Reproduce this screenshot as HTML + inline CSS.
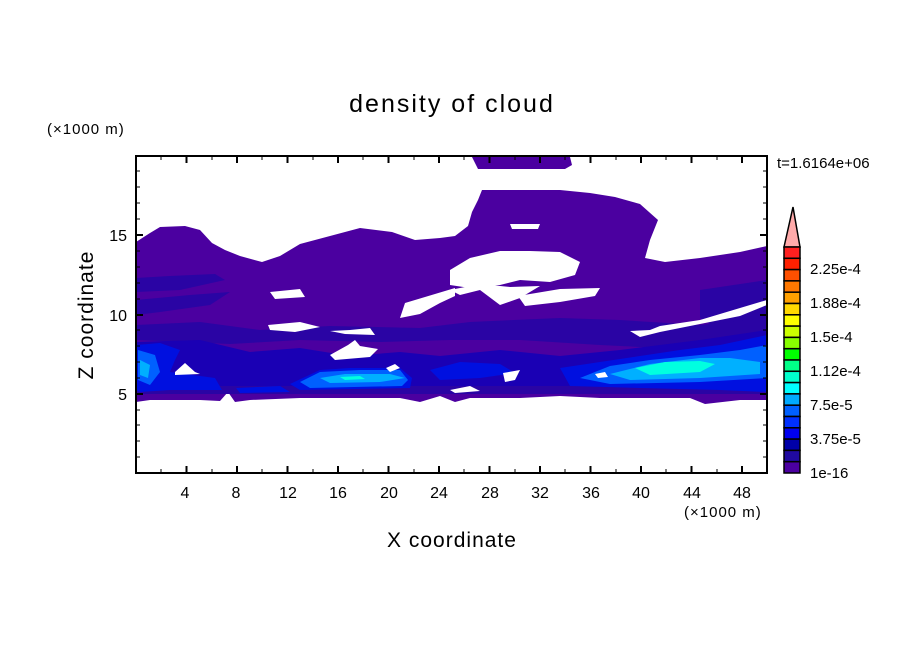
<!DOCTYPE html>
<html><head><meta charset="utf-8"><style>
html,body{margin:0;padding:0;background:#fff;}
svg text{font-family:"Liberation Sans","DejaVu Sans",sans-serif;fill:#000;}
</style></head><body>
<svg width="904" height="654" viewBox="0 0 904 654" xmlns="http://www.w3.org/2000/svg">
<defs><clipPath id="pc"><rect x="136" y="156" width="631" height="317"/></clipPath></defs>
<g clip-path="url(#pc)">
<path fill="#4b00a0" d="M136,242 L150,233 L160,227 L185,226 L200,230 L212,243 L225,250 L240,256 L262,262 L280,256 L300,244 L330,236 L360,228 L392,232 L415,240 L440,238 L455,236 L468,226 L472,212 L478,200 L482,190 L560,190 L590,193 L615,197 L640,204 L658,220 L650,240 L645,258 L665,262 L700,258 L740,252 L767,246 L767,400 L740,400 L705,404 L690,398 L600,398 L560,396 L520,398 L470,398 L455,402 L440,396 L420,402 L400,398 L300,398 L250,400 L235,402 L228,392 L220,401 L200,400 L150,400 L136,402 Z"/>
<path fill="#4b00a0" d="M472,157 L570,157 L572,165 L565,169 L478,169 Z"/>
<g fill="#2a04a4">
<path d="M136,278 L170,276 L215,274 L225,280 L180,290 L136,292 Z"/>
<path d="M136,300 L190,295 L230,292 L210,305 L160,312 L136,315 Z"/>
<path d="M700,290 L767,280 L767,330 L745,336 L720,330 L700,318 Z"/>
<path d="M136,325 L200,322 L260,330 L330,326 L420,328 L470,322 L560,318 L620,320 L700,325 L767,318 L767,360 L700,350 L600,345 L520,340 L450,340 L380,342 L300,340 L230,344 L136,340 Z"/>
<path d="M136,380 L300,378 L420,380 L560,378 L767,382 L767,394 L136,394 Z"/>
</g>
<g fill="#1a00b4">
<path d="M136,342 L200,340 L250,352 L300,348 L350,356 L400,352 L440,356 L500,350 L560,356 L620,350 L700,340 L767,330 L767,386 L136,386 Z"/>
</g>
<g fill="#0010e0">
<path d="M136,345 L160,343 L180,350 L175,360 L170,372 L215,378 L222,390 L170,390 L140,392 L136,390 Z"/>
<path d="M290,384 L320,370 L350,368 L400,368 L412,378 L410,388 L300,390 Z"/>
<path d="M430,370 L460,362 L500,364 L515,373 L480,378 L440,380 Z"/>
<path d="M560,368 L600,362 L640,356 L680,350 L720,345 L767,335 L767,392 L720,390 L640,388 L570,386 Z"/>
<path d="M236,388 L280,386 L290,392 L240,393 Z"/>
</g>
<g fill="#0060ff">
<path d="M138,350 L155,355 L160,372 L150,385 L138,380 Z"/>
<path d="M300,382 L320,372 L360,370 L400,370 L408,380 L402,386 L310,388 Z"/>
<path d="M580,378 L610,366 L650,360 L700,355 L740,350 L767,345 L767,378 L700,382 L610,384 Z"/>
</g>
<g fill="#00b0ff">
<path d="M140,360 L150,365 L148,378 L140,375 Z"/>
<path d="M320,378 L345,374 L390,374 L405,378 L380,382 L330,383 Z"/>
<path d="M610,374 L650,364 L700,358 L730,358 L760,362 L760,374 L700,378 L630,380 Z"/>
</g>
<g fill="#00ffe0">
<path d="M635,368 L665,362 L700,361 L715,364 L700,372 L650,375 Z"/>
<path d="M340,377 L360,376 L365,379 L345,380 Z"/>
</g>
<g fill="#fff">
<path d="M510,224 L540,224 L538,229 L512,229 Z"/>
<path d="M450,270 L470,258 L500,251 L530,251 L560,252 L580,262 L575,275 L550,282 L520,280 L500,285 L470,288 L450,285 Z"/>
<path d="M450,290 L480,284 L510,287 L540,286 L520,298 L500,305 L480,290 L460,295 Z"/>
<path d="M518,296 L560,289 L600,288 L595,296 L560,302 L525,306 Z"/>
<path d="M270,292 L300,289 L305,297 L275,299 Z"/>
<path d="M405,303 L455,288 L455,296 L440,303 L420,314 L400,318 Z"/>
<path d="M268,325 L300,322 L320,327 L295,332 L270,330 Z"/>
<path d="M330,331 L350,330 L370,328 L375,335 L345,334 Z"/>
<path d="M330,355 L348,345 L355,340 L360,346 L378,349 L370,357 L335,360 Z"/>
<path d="M175,372 L185,363 L195,372 L200,374 L175,375 Z"/>
<path d="M630,331 L650,330 L660,326 L700,320 L740,308 L767,300 L767,305 L740,316 L700,324 L660,332 L640,337 Z"/>
<path d="M386,368 L395,364 L400,368 L390,372 Z"/>
<path d="M503,373 L520,370 L515,380 L505,382 Z"/>
<path d="M450,390 L470,386 L480,391 L455,393 Z"/>
<path d="M595,374 L605,372 L608,377 L598,378 Z"/>
</g>
</g>
<rect x="136" y="156" width="631" height="317" fill="none" stroke="#000" stroke-width="2"/>
<g stroke="#000" stroke-width="2">
<path d="M186.5,473v-7M237,473v-7M287.5,473v-7M338,473v-7M388.5,473v-7M439,473v-7M489.5,473v-7M540,473v-7M590.5,473v-7M641,473v-7M691.5,473v-7M742,473v-7
M186.5,156v7M237,156v7M287.5,156v7M338,156v7M388.5,156v7M439,156v7M489.5,156v7M540,156v7M590.5,156v7M641,156v7M691.5,156v7M742,156v7"/>
<path d="M136,394h7M136,315h7M136,235h7M767,394h-7M767,315h-7M767,235h-7"/>
</g>
<g stroke="#000" stroke-width="1">
<path d="M161,473v-4M212,473v-4M262,473v-4M313,473v-4M363,473v-4M414,473v-4M464,473v-4M515,473v-4M565,473v-4M616,473v-4M666,473v-4M717,473v-4
M161,156v4M212,156v4M262,156v4M313,156v4M363,156v4M414,156v4M464,156v4M515,156v4M565,156v4M616,156v4M666,156v4M717,156v4"/>
<path d="M136,457h4M136,441h4M136,425h4M136,410h4M136,378h4M136,362h4M136,346h4M136,330h4M136,299h4M136,283h4M136,267h4M136,251h4M136,219h4M136,203h4M136,187h4M136,171h4
M767,457h-4M767,441h-4M767,425h-4M767,410h-4M767,378h-4M767,362h-4M767,346h-4M767,330h-4M767,299h-4M767,283h-4M767,267h-4M767,251h-4M767,219h-4M767,203h-4M767,187h-4M767,171h-4"/>
</g>
<g font-size="16" text-anchor="middle">
<text x="185" y="498">4</text><text x="236" y="498">8</text><text x="288" y="498">12</text><text x="338" y="498">16</text><text x="389" y="498">20</text><text x="439" y="498">24</text><text x="490" y="498">28</text><text x="540" y="498">32</text><text x="591" y="498">36</text><text x="641" y="498">40</text><text x="692" y="498">44</text><text x="742" y="498">48</text>
</g>
<g font-size="16" text-anchor="end">
<text x="127" y="400">5</text><text x="127" y="321">10</text><text x="127" y="241">15</text>
</g>
<text x="684" y="517" font-size="15" letter-spacing="1">(×1000 m)</text>
<text x="47" y="134" font-size="15" letter-spacing="1">(×1000 m)</text>
<text x="452" y="112" font-size="25" text-anchor="middle" letter-spacing="2">density of cloud</text>
<text x="452" y="547" font-size="21" text-anchor="middle" letter-spacing="1">X coordinate</text>
<text transform="translate(93,315) rotate(-90)" font-size="21" text-anchor="middle" letter-spacing="1">Z coordinate</text>
<text x="777" y="168" font-size="15">t=1.6164e+06</text>
<g stroke="#000" stroke-width="1.5">
<path d="M784,247 L793,207 L800,247 Z" fill="#ffaaaa"/>
<rect x="784" y="247.0" width="16" height="11.3" fill="#ff2020"/>
<rect x="784" y="258.3" width="16" height="11.3" fill="#ff2000"/>
<rect x="784" y="269.6" width="16" height="11.3" fill="#ff5000"/>
<rect x="784" y="280.9" width="16" height="11.3" fill="#ff7800"/>
<rect x="784" y="292.2" width="16" height="11.3" fill="#ffa000"/>
<rect x="784" y="303.5" width="16" height="11.3" fill="#ffd800"/>
<rect x="784" y="314.8" width="16" height="11.3" fill="#ffff00"/>
<rect x="784" y="326.1" width="16" height="11.3" fill="#ccff00"/>
<rect x="784" y="337.4" width="16" height="11.3" fill="#88ff00"/>
<rect x="784" y="348.7" width="16" height="11.3" fill="#00ff00"/>
<rect x="784" y="360.0" width="16" height="11.3" fill="#00ff88"/>
<rect x="784" y="371.3" width="16" height="11.3" fill="#00ffcc"/>
<rect x="784" y="382.6" width="16" height="11.3" fill="#00ffff"/>
<rect x="784" y="393.9" width="16" height="11.3" fill="#00aaff"/>
<rect x="784" y="405.2" width="16" height="11.3" fill="#0060ff"/>
<rect x="784" y="416.5" width="16" height="11.3" fill="#0030ff"/>
<rect x="784" y="427.8" width="16" height="11.3" fill="#0000f0"/>
<rect x="784" y="439.1" width="16" height="11.3" fill="#0000a8"/>
<rect x="784" y="450.4" width="16" height="11.3" fill="#200aa0"/>
<rect x="784" y="461.7" width="16" height="11.3" fill="#4b00a0"/>
</g>
<g font-size="15">
<text x="810" y="274">2.25e-4</text><text x="810" y="308">1.88e-4</text><text x="810" y="342">1.5e-4</text><text x="810" y="376">1.12e-4</text><text x="810" y="410">7.5e-5</text><text x="810" y="444">3.75e-5</text><text x="810" y="478">1e-16</text>
</g>
</svg>
</body></html>
